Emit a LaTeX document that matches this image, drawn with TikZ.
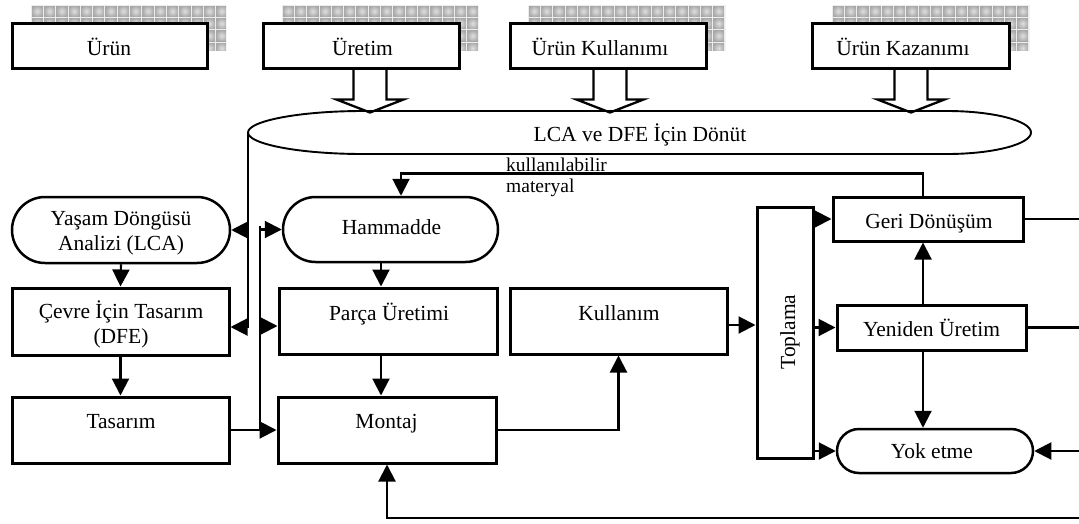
\documentclass[tikz,border=0pt]{standalone}
\usepackage{fontspec}
\setmainfont{Liberation Serif}
\usetikzlibrary{shapes.misc,arrows.meta,calc}
\newcommand\ckshadow[4]{%
  \begin{scope}
    \clip (#1,#2) rectangle (#3,#4);
    \fill[gray!45] (#1,#2) rectangle (#3,#4);
    \foreach \i in {0,...,16}{\foreach \j in {0,...,3}{%
      \shadedraw[draw=white!85!gray, line width=0.8pt, inner color=gray!25, outer color=gray!70]
        ({#1+\i*12.3},{#2+\j*12.3}) rectangle ++(12.3,12.3);}}
  \end{scope}}
\newcommand\hollowdown[2]{%
  \draw[myharrow] ($(#1.south)+(#2-16.5,0)$) -- ++(0,30) -- ++(-17,0) -- ++(33.5,13) -- ++(33.5,-13) -- ++(-17,0) -- ++(0,-30);}
\begin{document}
\begin{tikzpicture}[x=1pt,y=-1pt,
  mybox/.style={draw, line width=3pt, fill=white, inner sep=0pt},
  myrbox/.style={draw, line width=2.5pt, fill=white, rounded rectangle, inner sep=0pt},
  myconn/.style={line width=2.1pt},
  myarr/.style={line width=2.1pt, -{Triangle[length=17pt,width=17pt]}},
  myharrow/.style={line width=2.3pt, line join=miter},
  mytxt/.style={font=\fontsize{21.5}{25}\selectfont, inner sep=0pt, anchor=base},
  smalltxt/.style={font=\fontsize{19.5}{22}\selectfont, inner sep=0pt, anchor=base west}
]
\useasboundingbox (0,0) rectangle (1079,523);

% checkered shadows
\ckshadow{31}{5}{226}{50}
\ckshadow{282}{5}{478}{50}
\ckshadow{528}{5}{725}{50}
\ckshadow{832}{5}{1029}{50}

% top boxes
\node[mybox, minimum width=195pt, minimum height=45pt] (urun) at (109.5,45.5) {};
\node[mybox, minimum width=196pt, minimum height=45pt] (uret) at (361,45.5) {};
\node[mybox, minimum width=196pt, minimum height=45pt] (ukul) at (608,45.5) {};
\node[mybox, minimum width=197pt, minimum height=45pt] (ukaz) at (910.5,45.5) {};
\node[mytxt] (urunT) at (109,55) {Ürün};
\node[mytxt] (uretT) at (362.5,55) {Üretim};
\node[mytxt] (ukulT) at (600,55) {Ürün Kullanımı};
\node[mytxt] (ukazT) at (903,55) {Ürün Kazanımı};

% feedback ellipse
\coordinate (fbw) at (248,132.5);
\draw[line width=1.9pt] (fbw) .. controls (248,120.9) and (299.5,111) .. (363,111) -- (947,111)
  .. controls (993.4,111) and (1031,120.9) .. (1031,132.5)
  .. controls (1031,144.1) and (993.4,154) .. (947,154) -- (363,154)
  .. controls (299.5,154) and (248,144.1) .. cycle;
\node[mytxt] (fb) at (640,141) {LCA ve DFE İçin Dönüt};

% hollow arrows
\hollowdown{uret}{9}
\hollowdown{ukul}{2}
\hollowdown{ukaz}{0.5}

% left column
\node[myrbox, minimum width=218pt, minimum height=66pt] (lca) at (121,230) {};
\node[mytxt] (lcaT1) at (121,225) {Yaşam Döngüsü};
\node[mytxt] (lcaT2) at (121,250) {Analizi (LCA)};
\node[mybox, minimum width=217pt, minimum height=67pt] (dfe) at (120.5,321.5) {};
\node[mytxt] (dfeT1) at (121,318) {Çevre İçin Tasarım};
\node[mytxt] (dfeT2) at (121,343) {(DFE)};
\node[mybox, minimum width=217pt, minimum height=66pt] (tas) at (120.5,430) {};
\node[mytxt] (tasT) at (121,428) {Tasarım};

% middle column
\node[myrbox, minimum width=215pt, minimum height=65pt] (ham) at (390.5,229.5) {};
\node[mytxt] (hamT) at (391.5,234) {Hammadde};
\node[mybox, minimum width=218pt, minimum height=66pt] (parca) at (388,321) {};
\node[mytxt] (parcaT) at (389,320) {Parça Üretimi};
\node[mybox, minimum width=218pt, minimum height=66pt] (mon) at (387,430) {};
\node[mytxt] (monT) at (386.5,428) {Montaj};
\node[mybox, minimum width=217pt, minimum height=66pt] (kul) at (618.5,321) {};
\node[mytxt] (kulT) at (619,320) {Kullanım};

% collection
\node[mybox, minimum width=56pt, minimum height=251pt] (topl) at (785,332.5) {};
\node[mytxt, rotate=90] (toplT) at (795,332) {Toplama};

% right column
\node[mybox, minimum width=190pt, minimum height=44pt] (geri) at (928,219) {};
\node[mytxt] (geriT) at (929,228) {Geri Dönüşüm};
\node[mybox, minimum width=189pt, minimum height=45pt] (yen) at (931.5,327.5) {};
\node[mytxt] (yenT) at (931.5,336) {Yeniden Üretim};
\node[myrbox, minimum width=196pt, minimum height=44pt] (yok) at (935,451) {};
\node[mytxt] (yokT) at (932,458) {Yok etme};

% label
\node[smalltxt] (lab1) at (506,171) {kullanılabilir};
\node[smalltxt] (lab2) at (506,192) {materyal};

% helper coordinates
\coordinate (sp) at (260,226);
\coordinate (cx) at (381,0);
\coordinate (vx) at (923,0);
\coordinate (hx) at (401,0);
\coordinate (rE) at (1082,0);
\coordinate (bR) at (1082,518);
\coordinate (dfeA) at ([yshift=-5.5pt]dfe.east);
\coordinate (parA) at ([yshift=-5pt]parca.west);
\coordinate (kulA) at ([yshift=-4pt]kul.east);

% connectors left
\draw[myarr] (fbw) -- (fbw |- dfeA) -- (dfeA);
\draw[myarr] (fbw |- lca.east) -- (lca.east);
\draw[myconn] (sp) -- (sp |- mon.west);
\draw[myarr] (sp |- ham.west) -- (ham.west);
\draw[myarr] (sp |- parA) -- (parA);
\draw[myarr] (tas.east) -- (mon.west);
\draw[myarr] (lca.south) -- (dfe.north);
\draw[myarr] (dfe.south) -- (tas.north);

% connectors middle
\draw[myarr] (ham.south -| cx) -- (parca.north -| cx);
\draw[myarr] (parca.south -| cx) -- (mon.north -| cx);
\draw[myarr] (mon.east) -| (kul.south);
\draw[myarr] (kulA) -- (kulA -| topl.west);
\draw[myarr] (bR) -| (mon.south);

% connectors right
\draw[myarr] (topl.east |- geri.west) -- (geri.west);
\draw[myarr] (topl.east |- yen.west) -- (yen.west);
\draw[myarr] (topl.east |- yok.west) -- (yok.west);
\draw[myarr] (yen.north -| vx) -- (geri.south -| vx);
\draw[myarr] (yen.south -| vx) -- (yok.north -| vx);
\draw[myarr] (geri.north -| vx) -- ++(0,-22) -| (ham.north -| hx);
\draw[myconn] (geri.east) -- (geri.east -| rE);
\draw[myconn] (yen.east) -- (yen.east -| rE);
\draw[myarr] (yok.east -| rE) -- (yok.east);
\end{tikzpicture}
\end{document}
